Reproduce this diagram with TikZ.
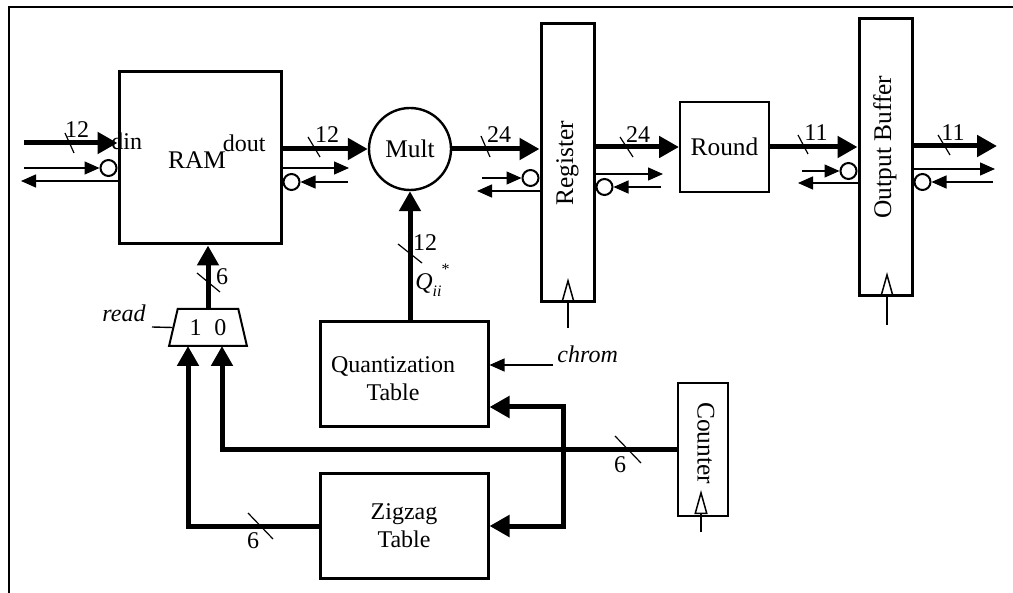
\documentclass[tikz,border=0pt]{standalone}
\usepackage{graphicx}
\usepackage{fontspec}
\setmainfont{Liberation Serif}
\usetikzlibrary{arrows.meta, shapes.geometric}
\tikzset{
  blockbox/.style = {draw, line width=1.5pt, inner sep=0pt,
                     font=\fontsize{12.7}{14}\selectfont},
  boxlabel/.style = {inner sep=0pt, font=\fontsize{12.7}{14}\selectfont},
  tablefont/.style = {font=\fontsize{12}{14}\selectfont},
  bus/.style      = {line width=2.5pt, -{Triangle[length=10pt, width=10.5pt]}},
  sig/.style      = {line width=0.7pt, -{Triangle[length=7.5pt, width=6.5pt]}},
  wire/.style     = {line width=0.7pt},
  clk/.style      = {line width=0.75pt, -{Triangle[open, length=12pt, width=6.5pt]}},
  bubble/.style   = {circle, draw, fill=white, line width=1pt,
                     minimum size=8pt, inner sep=0pt},
  bustick/.style  = {line width=0.6pt},
  buswidth/.style = {inner sep=0pt, font=\fontsize{12}{14}\selectfont},
  portlbl/.style  = {inner sep=0pt, font=\fontsize{12}{14}\selectfont},
  ctllbl/.style   = {inner sep=0pt, font=\fontsize{12}{14}\selectfont\itshape},
  muxbox/.style   = {trapezium, draw, line width=1pt, trapezium angle=72,
                     trapezium stretches=true, minimum width=39pt,
                     minimum height=18.5pt, inner sep=0pt,
                     font=\fontsize{12}{14}\selectfont},
}
\begin{document}
\begin{tikzpicture}[x=0.5pt, y=-0.5pt]
  \useasboundingbox (0,0) rectangle (1013,593);
  \draw[line width=1pt] (9,593) -- (9,7) -- (1013,7);

  % blocks
  \node[blockbox, minimum width=81pt, minimum height=86pt] (ram) at (200,158) {};
  \node[blockbox, circle, line width=1.2pt, minimum size=41pt] (mult) at (410,149) {Mult};
  \node[blockbox, minimum width=26.5pt, minimum height=139pt] (reg) at (567.5,163) {\rotatebox{90}{Register}};
  \node[blockbox, line width=1pt, minimum width=44.5pt, minimum height=45pt] (rnd) at (724.5,147) {Round};
  \node[blockbox, minimum width=26.5pt, minimum height=138.5pt] (obuf) at (885.5,157.5) {};
  \node[boxlabel] (obuflbl) at (885,147) {\rotatebox{90}{Output Buffer}};
  \node[blockbox, minimum width=84pt, minimum height=52.5pt] (qtab) at (404,374.5) {};
  \node[boxlabel, tablefont, align=center] (qtablbl) at (393,378.5) {Quantization\\Table};
  \node[blockbox, tablefont, align=center, minimum width=84pt, minimum height=52.5pt] (zig) at (404,526) {Zigzag\\Table};
  \node[blockbox, line width=1pt, minimum width=25pt, minimum height=66.5pt] (cnt) at (703,449.5) {};
  \node[boxlabel] (cntlbl) at (706,443) {\rotatebox{-90}{Counter}};
  \node[muxbox] (mux) at (208,327.5) {1\hspace{6.5pt}0};

  % port names
  \node[portlbl, anchor=base west] (dinlbl) at (111,150) {din};
  \node[portlbl, anchor=base east] (doutlbl) at (266,152) {dout};
  \node[boxlabel, fill=white, inner sep=0.5pt] (ramlbl) at (197,160) {RAM};

  % data path
  \coordinate (srcin) at (24,143);
  \coordinate (dstout) at (997,146);
  \coordinate (mux1) at (188,346);
  \coordinate (mux0) at (222,346);
  \coordinate (split) at (563,450);
  \draw[bus] (srcin) -- (ram.west |- srcin);
  \draw[bus] (ram.east |- mult) -- (mult);
  \draw[bus] (mult) -- (mult -| reg.west);
  \draw[bus] (reg.east |- rnd) -- (rnd);
  \draw[bus] (rnd) -- (rnd -| obuf.west);
  \draw[bus] (obuf.east |- dstout) -- (dstout);
  \draw[bus] (qtab.north -| mult) -- (mult);
  \draw[bus] (mux.north) -- (mux.north |- ram.south);
  \draw[bus] (cnt.west) -| (mux0);
  \draw[bus] (zig.west) -| (mux1);
  \draw[bus] (split) |- (qtab.east |- 0,407);
  \draw[bus] (split) |- (zig.east);

  % handshakes
  \foreach \blk/\rq/\ak/\xin/\xout in {ram/168/181/24/21, reg/178/191/482/477, obuf/171/183/802/798} {
    \coordinate (\blk rqin) at (\xin,\rq);
    \coordinate (\blk akout) at (\xout,\ak);
    \node[bubble, anchor=east] (\blk bl) at (\blk.west |- \blk rqin) {};
    \draw[sig] (\blk rqin) -- (\blk bl);
    \draw[sig] (\blk.west |- \blk akout) -- (\blk akout);
  }
  \foreach \blk/\rq/\ak/\xout/\xin in {ram/168/182/349/348, reg/174/187/663/661, obuf/169/182/995/993} {
    \coordinate (\blk rqout) at (\xout,\rq);
    \coordinate (\blk akin) at (\xin,\ak);
    \node[bubble, anchor=west] (\blk br) at (\blk.east |- \blk akin) {};
    \draw[sig] (\blk.east |- \blk rqout) -- (\blk rqout);
    \draw[sig] (\blk akin) -- (\blk br);
  }

  % control inputs
  \coordinate (chromsrc) at (553,365);
  \coordinate (readsrc) at (152,327);
  \coordinate (regclk) at (568,328);
  \coordinate (obufclk) at (887,325);
  \coordinate (cntclk) at (701,532);
  \draw[sig] (chromsrc) -- (chromsrc -| qtab.east);
  \draw[wire] (mux.left side) -- (readsrc);
  \node[ctllbl, anchor=base west] (chromlbl) at (557,363) {chrom};
  \node[ctllbl, anchor=base east] (readlbl) at (146,322) {read};
  \draw[clk] (regclk) -- ++(0,-50);
  \draw[clk] (obufclk) -- ++(0,-53);
  \draw[clk] (cntclk) -- ++(0,-42);

  % bus widths
  \foreach \x/\y/\dx/\dy in {65/133/9/20, 308/137/12/20, 481/136/9/21, 620/137/13/20,
      798/135/10/19, 938/135/12/20, 197/273/23/19, 398/244/24/19, 248/513/25/26, 615/436/26/27}
    \draw[bustick] (\x,\y) -- ++(\dx,\dy);
  \foreach \nm/\x/\y/\w in {win/77/130/12, wram/327/135/12, wmult/499/135/24, wreg/638/135/24,
      wrnd/816/133/11, wobuf/953/133/11, wsel/222/277/6, wq/425/243/12, wzig/253/541/6, wcnt/620/465/6}
    \node[buswidth] (\nm) at (\x,\y) {\w};
  \node[portlbl, anchor=base west] (qlbl) at (415,290)
    {\textit{Q}\raisebox{-3.5pt}{\fontsize{8}{9}\selectfont\textit{ii}}\raisebox{7.5pt}{\fontsize{8}{9}\selectfont *}};
\end{tikzpicture}
\end{document}
